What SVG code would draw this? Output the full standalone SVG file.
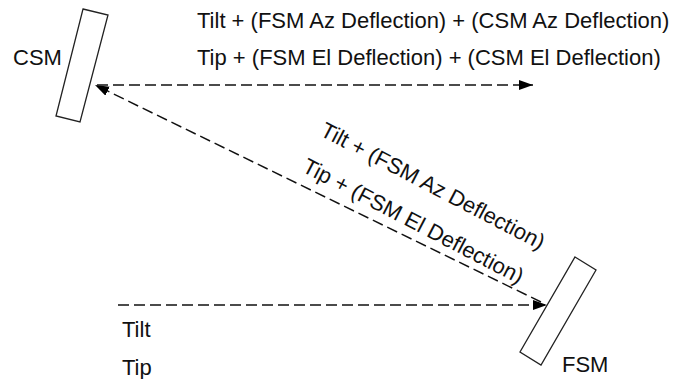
<svg xmlns="http://www.w3.org/2000/svg" width="678" height="379" viewBox="0 0 678 379">
  <style>
    text { font-family: "Liberation Sans", Arial, sans-serif; font-size: 22px; fill: #111; }
    .mirror { fill: #fff; stroke: #222; stroke-width: 1.3; }
    .beam { fill: none; stroke: #111; stroke-width: 1.4; stroke-dasharray: 11 5; marker-end: url(#arrow); }
  </style>
  <defs>
    <marker id="arrow" markerUnits="userSpaceOnUse" markerWidth="14" markerHeight="10" viewBox="0 0 14 10" refX="14" refY="5" orient="auto">
      <path d="M0,0 L14,5 L0,10 Z" fill="#000"/>
    </marker>
  </defs>
  <rect width="678" height="379" fill="#fff"/>
  <g id="connectors">
    <line class="beam" x1="118" y1="305" x2="547" y2="305"/>
    <line class="beam" x1="541" y1="302" x2="95" y2="85"/>
    <line class="beam" x1="97" y1="85" x2="533" y2="85"/>
  </g>
  <g id="csm">
    <polygon class="mirror" points="83,9 108,15 80,122 56,116"/>
    <text x="13" y="65">CSM</text>
  </g>
  <g id="fsm">
    <polygon class="mirror" points="575,257 596,270 541,365 520,352"/>
    <text x="562" y="372">FSM</text>
  </g>
  <g id="labels">
    <text x="197" y="27.5">Tilt + (FSM Az Deflection) + (CSM Az Deflection)</text>
    <text x="197" y="65">Tip + (FSM El Deflection) + (CSM El Deflection)</text>
    <text transform="translate(319,135) rotate(27.5)">Tilt + (FSM Az Deflection)</text>
    <text transform="translate(301,171) rotate(27.5)">Tip + (FSM El Deflection)</text>
    <text x="122" y="337">Tilt</text>
    <text x="122" y="375">Tip</text>
  </g>
</svg>
